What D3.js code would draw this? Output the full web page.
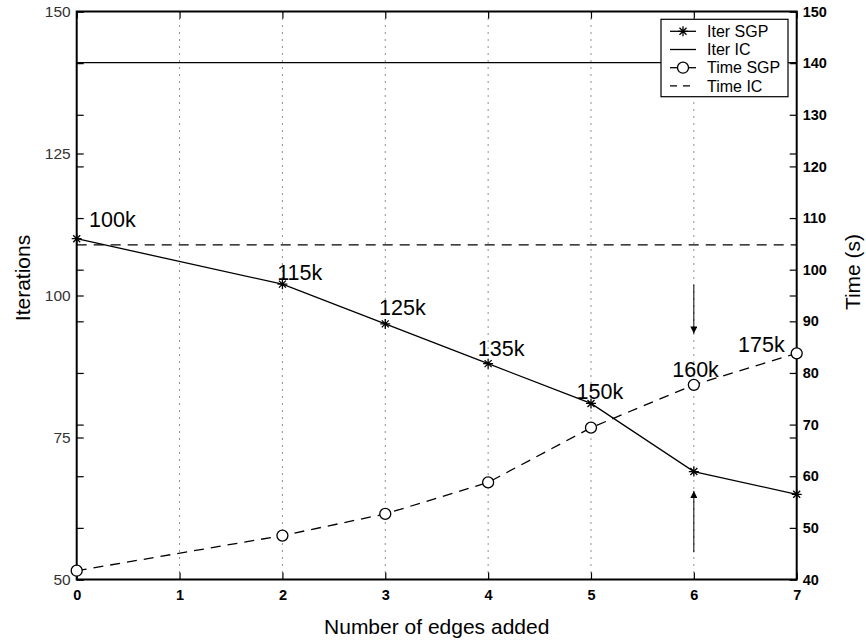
<!DOCTYPE html>
<meta charset="utf-8">
<style>
body { margin: 0; background: #fff; }
text { font-family: "Liberation Sans", Arial, sans-serif; }
</style>
<body>
<script src="https://d3js.org/d3.v7.min.js"></script>
<script>
// data
var edges = [0, 2, 3, 4, 5, 6, 7];
var iterSGP = [110, 102, 95, 88, 81, 69, 65];
var timeSGP = [41.7, 48.5, 52.7, 58.8, 69.4, 77.7, 83.8];
var iterIC = 141;
var timeIC = 104.8;
var ptLabels = ["100k", "115k", "125k", "135k", "150k", "160k", "175k"];
// label anchor points in (edges, iterations) units
var labelX = [0.12, 1.95, 2.94, 3.9, 4.86, 5.79, 6.43];
var labelY = [112.1, 102.7, 96.6, 89.3, 81.8, 85.6, 90.1];
// arrows at x = 6, [from, to] in iteration units
var arrowDown = [101.9, 93.3];
var arrowUp = [54.8, 65.6];
var xTicks = [0, 1, 2, 3, 4, 5, 6, 7];
var leftTicks = [50, 75, 100, 125, 150];
var rightTicks = [40, 50, 60, 70, 80, 90, 100, 110, 120, 130, 140, 150];
var legendNames = ["Iter SGP", "Iter IC", "Time SGP", "Time IC"];

var W = 866, H = 643;
var margin = {top: 11.5, left: 76.7},
    width = 720, height = 568;

var svg = d3.select("body").append("svg")
    .attr("width", W).attr("height", H);
var g = svg.append("g")
    .attr("transform", "translate(" + margin.left + "," + margin.top + ")");

var x = d3.scaleLinear().domain([0, 7]).range([0, width]);
var yL = d3.scaleLinear().domain([50, 150]).range([height, 0]);
var yR = d3.scaleLinear().domain([40, 150]).range([height, 0]);

// vertical dotted grid
g.selectAll(".grid").data(xTicks.slice(1, -1)).enter().append("line")
    .attr("x1", d => x(d)).attr("x2", d => x(d))
    .attr("y1", 0).attr("y2", height)
    .attr("stroke", "#222").attr("stroke-width", 1)
    .attr("stroke-dasharray", "1,6");

// axes, ticks pointing in on both sides
function noDomain(sel) { sel.select(".domain").remove(); }
g.append("g").attr("transform", "translate(0," + height + ")")
    .call(d3.axisBottom(x).tickValues(xTicks).tickSize(-7).tickPadding(10).tickFormat(d3.format("d")))
    .call(noDomain)
    .call(a => a.selectAll("text").attr("font-size", 14.5).attr("font-weight", "bold").attr("fill", "#000"));
g.append("g")
    .call(d3.axisTop(x).tickValues(xTicks).tickSize(-7).tickFormat(""))
    .call(noDomain);
g.append("g")
    .call(d3.axisLeft(yL).tickValues(leftTicks).tickSize(-7).tickPadding(6))
    .call(noDomain)
    .call(a => a.selectAll("text").attr("font-size", 15.5).attr("fill", "#333"));
g.append("g").attr("transform", "translate(" + width + ",0)")
    .call(d3.axisRight(yL).tickValues(leftTicks).tickSize(-7).tickFormat(""))
    .call(noDomain);
g.append("g").attr("transform", "translate(" + width + ",0)")
    .call(d3.axisRight(yR).tickValues(rightTicks).tickSize(-7).tickPadding(6))
    .call(noDomain)
    .call(a => a.selectAll("text").attr("font-size", 14.5).attr("font-weight", "bold").attr("fill", "#000"));
g.append("g")
    .call(d3.axisLeft(yR).tickValues(rightTicks).tickSize(-7).tickFormat(""))
    .call(noDomain);
g.selectAll(".tick line").attr("stroke", "#000").attr("stroke-width", 1.2);

g.append("rect").attr("width", width).attr("height", height)
    .attr("fill", "none").attr("stroke", "#000").attr("stroke-width", 2);

// constant lines
g.append("line").attr("x1", 0).attr("x2", width)
    .attr("y1", yL(iterIC)).attr("y2", yL(iterIC))
    .attr("stroke", "#000").attr("stroke-width", 1.3);
g.append("line").attr("x1", 0).attr("x2", width)
    .attr("y1", yR(timeIC)).attr("y2", yR(timeIC))
    .attr("stroke", "#000").attr("stroke-width", 1.3).attr("stroke-dasharray", "10,7");

// Iter SGP
var lineL = d3.line().x((d, i) => x(edges[i])).y(d => yL(d));
g.append("path").datum(iterSGP).attr("d", lineL)
    .attr("fill", "none").attr("stroke", "#000").attr("stroke-width", 1.3);
function star(sel, s) {
  sel.append("path")
    .attr("d", "M" + (-s) + ",0H" + s + "M0," + (-s) + "V" + s +
      "M" + (-s * .7) + "," + (-s * .7) + "L" + (s * .7) + "," + (s * .7) +
      "M" + (-s * .7) + "," + (s * .7) + "L" + (s * .7) + "," + (-s * .7))
    .attr("stroke", "#000").attr("stroke-width", 1.3).attr("fill", "none");
}
g.selectAll(".star").data(iterSGP).enter().append("g")
    .attr("transform", (d, i) => "translate(" + x(edges[i]) + "," + yL(d) + ")")
    .each(function() { star(d3.select(this), 5); });

// Time SGP
var lineR = d3.line().x((d, i) => x(edges[i])).y(d => yR(d));
g.append("path").datum(timeSGP).attr("d", lineR)
    .attr("fill", "none").attr("stroke", "#000").attr("stroke-width", 1.3)
    .attr("stroke-dasharray", "10,7");
g.selectAll(".circ").data(timeSGP).enter().append("circle")
    .attr("cx", (d, i) => x(edges[i])).attr("cy", d => yR(d)).attr("r", 5.5)
    .attr("fill", "#fff").attr("stroke", "#000").attr("stroke-width", 1.3);

// point labels
g.selectAll(".plab").data(ptLabels).enter().append("text")
    .attr("x", (d, i) => x(labelX[i])).attr("y", (d, i) => yL(labelY[i]))
    .attr("font-size", 21.5).attr("fill", "#000").text(d => d);

// arrows
svg.append("defs").append("marker").attr("id", "ah")
    .attr("viewBox", "0 0 10 10").attr("refX", 10).attr("refY", 5)
    .attr("markerWidth", 12).attr("markerHeight", 7).attr("orient", "auto")
    .attr("markerUnits", "userSpaceOnUse")
    .append("path").attr("d", "M0,0L10,5L0,10Z").attr("fill", "#000");
[arrowDown, arrowUp].forEach(function(a) {
  g.append("line").attr("x1", x(6)).attr("x2", x(6))
    .attr("y1", yL(a[0])).attr("y2", yL(a[1]))
    .attr("stroke", "#000").attr("stroke-width", 1)
    .attr("marker-end", "url(#ah)");
});

// legend
var lg = g.append("g").attr("transform", "translate(" + (661 - margin.left) + "," + (19.3 - margin.top) + ")");
lg.append("rect").attr("width", 127).attr("height", 77.4)
    .attr("fill", "#fff").attr("stroke", "#000").attr("stroke-width", 1.2);
legendNames.forEach(function(n, i) {
  var yy = 12 + i * 18.2;
  lg.append("line").attr("x1", 9).attr("x2", 35).attr("y1", yy).attr("y2", yy)
    .attr("stroke", "#000").attr("stroke-width", 1.3)
    .attr("stroke-dasharray", i == 3 ? "7,6" : null);
  if (i == 0) star(lg.append("g").attr("transform", "translate(22," + yy + ")"), 5);
  if (i == 2) lg.append("circle").attr("cx", 22).attr("cy", yy).attr("r", 5.5)
    .attr("fill", "#fff").attr("stroke", "#000").attr("stroke-width", 1.3);
  lg.append("text").attr("x", 46).attr("y", yy).attr("dy", "0.36em")
    .attr("font-size", 16).attr("fill", "#000").text(n);
});

// axis titles
svg.append("text").attr("transform", "translate(23,278) rotate(-90)")
    .attr("text-anchor", "middle").attr("dy", "0.35em")
    .attr("font-size", 21).text("Iterations");
svg.append("text").attr("transform", "translate(853,272) rotate(-90)")
    .attr("text-anchor", "middle").attr("dy", "0.35em")
    .attr("font-size", 21).text("Time (s)");
svg.append("text").attr("x", margin.left + width / 2).attr("y", 627)
    .attr("text-anchor", "middle").attr("dy", "0.35em")
    .attr("font-size", 21).text("Number of edges added");
</script>
</body>
